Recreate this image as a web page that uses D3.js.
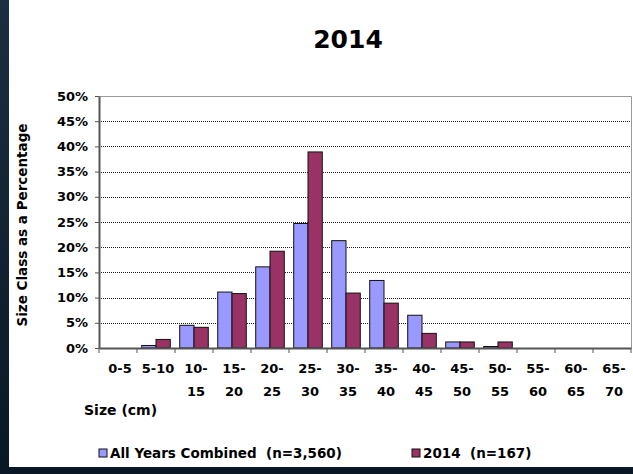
<!DOCTYPE html>
<html><head><meta charset="utf-8">
<script src="https://cdn.jsdelivr.net/npm/d3@7"></script>
<style>body{margin:0;background:#0d1c2b;}svg{display:block;}</style>
</head><body>
<svg id="c" width="633" height="474"></svg>
<script>
const categories = ["0-5","5-10","10-15","15-20","20-25","25-30","30-35","35-40","40-45","45-50","50-55","55-60","60-65","65-70"];
const allYears = [0, 0.5, 4.5, 11.1, 16.1, 24.7, 21.3, 13.4, 6.5, 1.2, 0.3, 0, 0, 0];
const year2014 = [0, 1.7, 4.1, 10.8, 19.2, 38.9, 10.9, 8.9, 2.9, 1.2, 1.2, 0, 0, 0];
const seriesNames = ["All Years Combined  (n=3,560)", "2014  (n=167)"];
const yTicks = [0,5,10,15,20,25,30,35,40,45,50];

const svg = d3.select("#c");
const font = "'DejaVu Sans', sans-serif";
// background
const bg = svg.append("defs").append("linearGradient").attr("id","bgg").attr("x1",0).attr("x2",0).attr("y1",0).attr("y2",1);
bg.append("stop").attr("offset","0%").attr("stop-color","#1b2f42");
bg.append("stop").attr("offset","100%").attr("stop-color","#0a1724");
svg.append("rect").attr("width",633).attr("height",474).attr("fill","url(#bgg)");
svg.append("rect").attr("x",9).attr("y",0).attr("width",624).attr("height",467).attr("fill","#fff");

const m = {l:99, r:631, t:96, b:348};
const x = d3.scaleBand().domain(categories).range([m.l, m.r]).padding(0);
const y = d3.scaleLinear().domain([0,50]).range([m.b, m.t]);
const inner = d3.scaleBand().domain([0,1]).range([0, x.bandwidth()]).paddingInner(0).paddingOuter(0.33);

// gridlines
svg.append("g").selectAll("line").data(yTicks.filter(d=>d>0 && d<50)).join("line")
  .attr("x1",m.l).attr("x2",m.r).attr("y1",d=>Math.round(y(d))+0.5).attr("y2",d=>Math.round(y(d))+0.5)
  .attr("stroke","#222").attr("stroke-width",1).attr("stroke-dasharray","1,1");
// plot border top/right
svg.append("path").attr("d",`M${m.l},${m.t+0.5}H${m.r+0.5}V${m.b}`).attr("fill","none").attr("stroke","#999").attr("stroke-width",1);

// bars
const series = [allYears, year2014];
const colors = ["#9999ff", "#993366"];
series.forEach((vals,si)=>{
  svg.append("g").selectAll("rect").data(vals.map((v,i)=>({v,c:categories[i]})).filter(d=>d.v>0)).join("rect")
    .attr("x",d=>x(d.c)+inner(si)).attr("width",inner.bandwidth())
    .attr("y",d=>y(d.v)).attr("height",d=>m.b-y(d.v))
    .attr("fill",colors[si]).attr("stroke","#111").attr("stroke-width",1);
});

// y axis
const ya = svg.append("g").attr("transform",`translate(${m.l},0)`)
  .call(d3.axisLeft(y).tickValues(yTicks).tickFormat(d=>d+"%").tickSize(4).tickSizeOuter(0));
ya.select(".domain").attr("stroke","#555").attr("stroke-width",2);
ya.selectAll(".tick line").attr("stroke","#555");
ya.selectAll("text").attr("font-family",font).attr("font-weight","bold").attr("font-size",13).attr("fill","#000").attr("x",-11);

// x axis
const xa = svg.append("g").attr("transform",`translate(0,${m.b})`)
  .call(d3.axisBottom(x).tickSize(0).tickFormat(""));
xa.select(".domain").attr("stroke","#555").attr("stroke-width",2);
// boundary ticks
svg.append("g").selectAll("line").data(categories.map(c=>x(c)).concat([m.r])).join("line")
  .attr("x1",d=>d).attr("x2",d=>d).attr("y1",m.b).attr("y2",m.b+5).attr("stroke","#555");
// category labels (two lines)
const lbl = svg.append("g").selectAll("text").data(categories).join("text")
  .attr("x",d=>x(d)+x.bandwidth()/2+2).attr("y",m.b+25)
  .attr("text-anchor","middle").attr("font-family",font).attr("font-weight","bold").attr("font-size",13);
lbl.each(function(d){
  const t = d3.select(this);
  const parts = d.split("-");
  if (d.length <= 4) { t.text(d); }
  else {
    t.append("tspan").attr("x",x(d)+x.bandwidth()/2+2).text(parts[0]+"-");
    t.append("tspan").attr("x",x(d)+x.bandwidth()/2+2).attr("dy",23).text(parts[1]);
  }
});

// titles
svg.append("text").attr("x",348).attr("y",48).attr("text-anchor","middle").attr("font-family",font)
  .attr("font-weight","bold").attr("font-size",25).text("2014");
svg.append("text").attr("transform","translate(27,225) rotate(-90)").attr("text-anchor","middle")
  .attr("font-family",font).attr("font-weight","bold").attr("font-size",13.5).text("Size Class as a Percentage");
svg.append("text").attr("x",84).attr("y",415).attr("font-family",font).attr("font-weight","bold").attr("font-size",14).text("Size (cm)");

// legend
const leg = [{x:99, name:seriesNames[0], c:colors[0]}, {x:412, name:seriesNames[1], c:colors[1]}];
const lg = svg.append("g").selectAll("g").data(leg).join("g").attr("transform",d=>`translate(${d.x},458)`);
lg.append("rect").attr("x",0).attr("y",-9).attr("width",8).attr("height",8).attr("fill",d=>d.c).attr("stroke","#111");
lg.append("text").attr("x",11).attr("y",0).attr("font-family",font).attr("font-weight","bold").attr("font-size",13.5)
  .attr("xml:space","preserve").style("white-space","pre").text(d=>d.name);
</script>
</body></html>
